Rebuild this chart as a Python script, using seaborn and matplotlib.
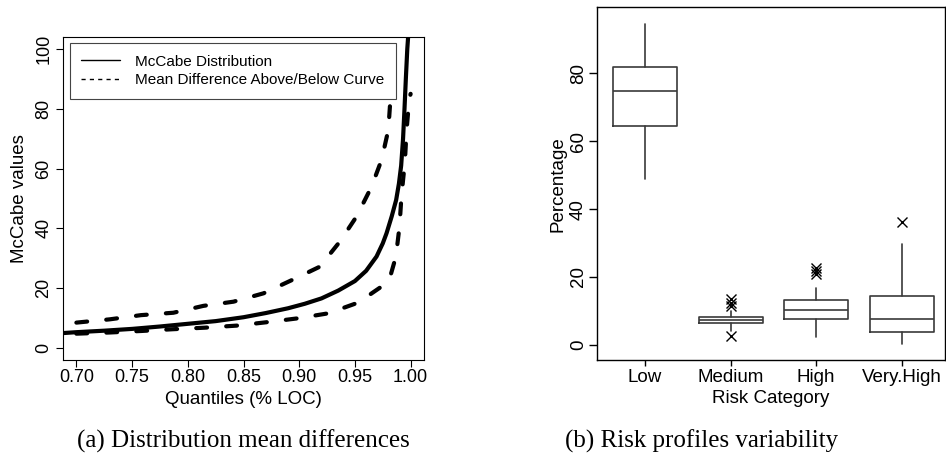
import matplotlib
matplotlib.use("Agg")
import matplotlib.pyplot as plt
from matplotlib.lines import Line2D
import seaborn as sns

# ---------------- data: panel (a) ----------------
solid_x = [0.68, 0.70, 0.725, 0.75, 0.775, 0.80, 0.825, 0.85, 0.87, 0.89, 0.905,
           0.92, 0.935, 0.95, 0.96, 0.9694, 0.975, 0.9784, 0.983, 0.987,
           0.9895, 0.9915, 0.9932, 0.9945, 0.9957, 0.9970, 0.9985]
solid_y = [4.8, 5.3, 5.8, 6.4, 7.2, 8.1, 9.0, 10.3, 11.7, 13.3, 14.8,
           16.6, 19.2, 22.4, 25.8, 30.6, 35.0, 38.4, 44.0, 49.5,
           55.0, 61.0, 70.0, 80.0, 90.0, 100.0, 108.0]

upper_x = [0.70, 0.73, 0.758, 0.787, 0.814, 0.841, 0.868, 0.895, 0.9185, 0.9365,
           0.9515, 0.965, 0.974, 0.980, 0.982, 0.9844, 0.9868]
upper_y = [8.5, 9.6, 11.0, 11.8, 14.1, 15.5, 18.3, 23.0, 27.2, 35.6,
           44.0, 54.0, 63.0, 73.0, 84.0, 94.2, 104.5]

lower_x = [0.70, 0.73, 0.758, 0.787, 0.815, 0.844, 0.870, 0.898, 0.926, 0.953,
           0.976, 0.981, 0.9868, 0.990, 0.9918, 0.9948, 0.9964, 0.9987, 1.0]
lower_y = [4.8, 5.2, 5.7, 6.3, 6.8, 7.5, 8.6, 9.9, 11.6, 15.2,
           21.1, 23.0, 30.6, 40.6, 51.0, 62.0, 73.0, 83.0, 85.0]

x_ticks = [0.70, 0.75, 0.80, 0.85, 0.90, 0.95, 1.00]
y_ticks_a = [0, 20, 40, 60, 80, 100]
legend_labels = ["McCabe Distribution", "Mean Difference Above/Below Curve"]

# ---------------- data: panel (b) ----------------
categories = ["Low", "Medium", "High", "Very.High"]
q1 = [64.6, 6.4, 7.7, 3.65]
median = [74.7, 7.4, 10.3, 7.7]
q3 = [81.9, 8.25, 13.2, 14.4]
whisker_low = [48.8, 4.0, 2.2, 0.2]
whisker_high = [94.5, 10.0, 16.6, 29.8]
outliers = [[], [2.6, 11.4, 12.2, 13.5], [21.0, 21.8, 22.7], [36.3]]
y_ticks_b = [0, 20, 40, 60, 80]

# ---------------- style ----------------
sns.set_style("ticks")
plt.rcParams["font.family"] = ["Liberation Sans", "DejaVu Sans"]
plt.rcParams["axes.edgecolor"] = "black"
plt.rcParams["xtick.color"] = "black"
plt.rcParams["ytick.color"] = "black"
plt.rcParams["text.color"] = "black"
plt.rcParams["axes.labelcolor"] = "black"

W, H = 946, 467
fig = plt.figure(figsize=(W / 100, H / 100), dpi=100)
fig.patch.set_facecolor("white")

# ---------------- panel (a) ----------------
ax1 = fig.add_axes([63 / W, 107 / H, 361 / W, 323 / H])
sns.lineplot(x=solid_x, y=solid_y, ax=ax1, color="black", linewidth=3,
             sort=False, estimator=None, legend=False,
             solid_capstyle="round", solid_joinstyle="round")
for xs, ys in ((upper_x, upper_y), (lower_x, lower_y)):
    sns.lineplot(x=xs, y=ys, ax=ax1, color="black", linewidth=3,
                 sort=False, estimator=None, legend=False,
                 linestyle=(0, (2.6, 4.6)), dash_capstyle="round",
                 dash_joinstyle="round")
ax1.set_xlim(0.688, 1.012)
ax1.set_ylim(-4, 104)
ax1.set_xticks(x_ticks)
ax1.set_xticklabels([f"{v:.2f}" for v in x_ticks])
ax1.set_yticks(y_ticks_a)
ax1.set_yticklabels([str(v) for v in y_ticks_a], rotation=90, va="center")
ax1.tick_params(axis="both", labelsize=13, length=4.8, width=0.8,
                direction="out")
ax1.tick_params(axis="x", pad=2)
ax1.tick_params(axis="y", pad=3)
for s in ax1.spines.values():
    s.set_visible(True)
    s.set_linewidth(0.8)
ax1.set_xlabel("Quantiles (% LOC)", fontsize=13.5, va="center")
ax1.xaxis.set_label_coords(0.5, (360 - 400) / 323)
ax1.set_ylabel("McCabe values", fontsize=13.5, va="center")
ax1.yaxis.set_label_coords((19 - 63) / 361, 0.5)

handles = [Line2D([], [], color="black", lw=1),
           Line2D([], [], color="black", lw=1, linestyle=(0, (3, 3)))]
leg = ax1.legend(handles, legend_labels, loc="upper left",
                 bbox_to_anchor=(0.0194, 0.9805), borderaxespad=0,
                 fancybox=False, framealpha=1, edgecolor="#444444",
                 fontsize=11, handlelength=2.5, handletextpad=1.0,
                 labelspacing=0.3, borderpad=0.75)
leg.get_frame().set_linewidth(0.8)

# ---------------- panel (b) ----------------
ax2 = fig.add_axes([596.7 / W, 107 / H, 348.5 / W, 352.7 / H])
stats = []
for i, c in enumerate(categories):
    stats.append(dict(label=c, q1=q1[i], med=median[i], q3=q3[i],
                      whislo=whisker_low[i], whishi=whisker_high[i],
                      fliers=outliers[i]))
box_col = "#3a3a3a"
ax2.bxp(stats, positions=range(len(categories)), widths=0.75,
        showcaps=False, patch_artist=False,
        boxprops=dict(color=box_col, linewidth=1.2),
        medianprops=dict(color=box_col, linewidth=1.2),
        whiskerprops=dict(color=box_col, linewidth=1.2),
        flierprops=dict(marker="x", markersize=6.5, markeredgecolor="black",
                        markeredgewidth=1.0, linestyle="none"))
ax2.set_xlim(-0.564, 3.506)
ax2.set_ylim(-4.5, 99.5)
ax2.set_xticks(range(len(categories)))
ax2.set_xticklabels(categories)
ax2.set_yticks(y_ticks_b)
ax2.set_yticklabels([str(v) for v in y_ticks_b], rotation=90, va="center")
ax2.tick_params(axis="both", labelsize=13.5, width=1.0, direction="out")
ax2.tick_params(axis="x", length=4.5, pad=2)
ax2.tick_params(axis="y", length=6, pad=1)
for s in ax2.spines.values():
    s.set_visible(True)
    s.set_linewidth(1.0)
ax2.set_xlabel("Risk Category", fontsize=13.5, va="baseline")
ax2.xaxis.set_label_coords(0.5, (360 - 403) / 352.7)
ax2.set_ylabel("Percentage", fontsize=13.5, va="center")
ax2.yaxis.set_label_coords((558 - 596.7) / 348.5, 0.5)

# ---------------- captions ----------------
fig.text(243 / W, 1 - 441 / H, "(a) Distribution mean differences",
         ha="center", va="center", fontsize=18,
         family=["Liberation Serif", "DejaVu Serif"])
fig.text(702 / W, 1 - 441 / H, "(b) Risk profiles variability",
         ha="center", va="center", fontsize=18,
         family=["Liberation Serif", "DejaVu Serif"])

fig.savefig("out.png", dpi=100, facecolor="white")
